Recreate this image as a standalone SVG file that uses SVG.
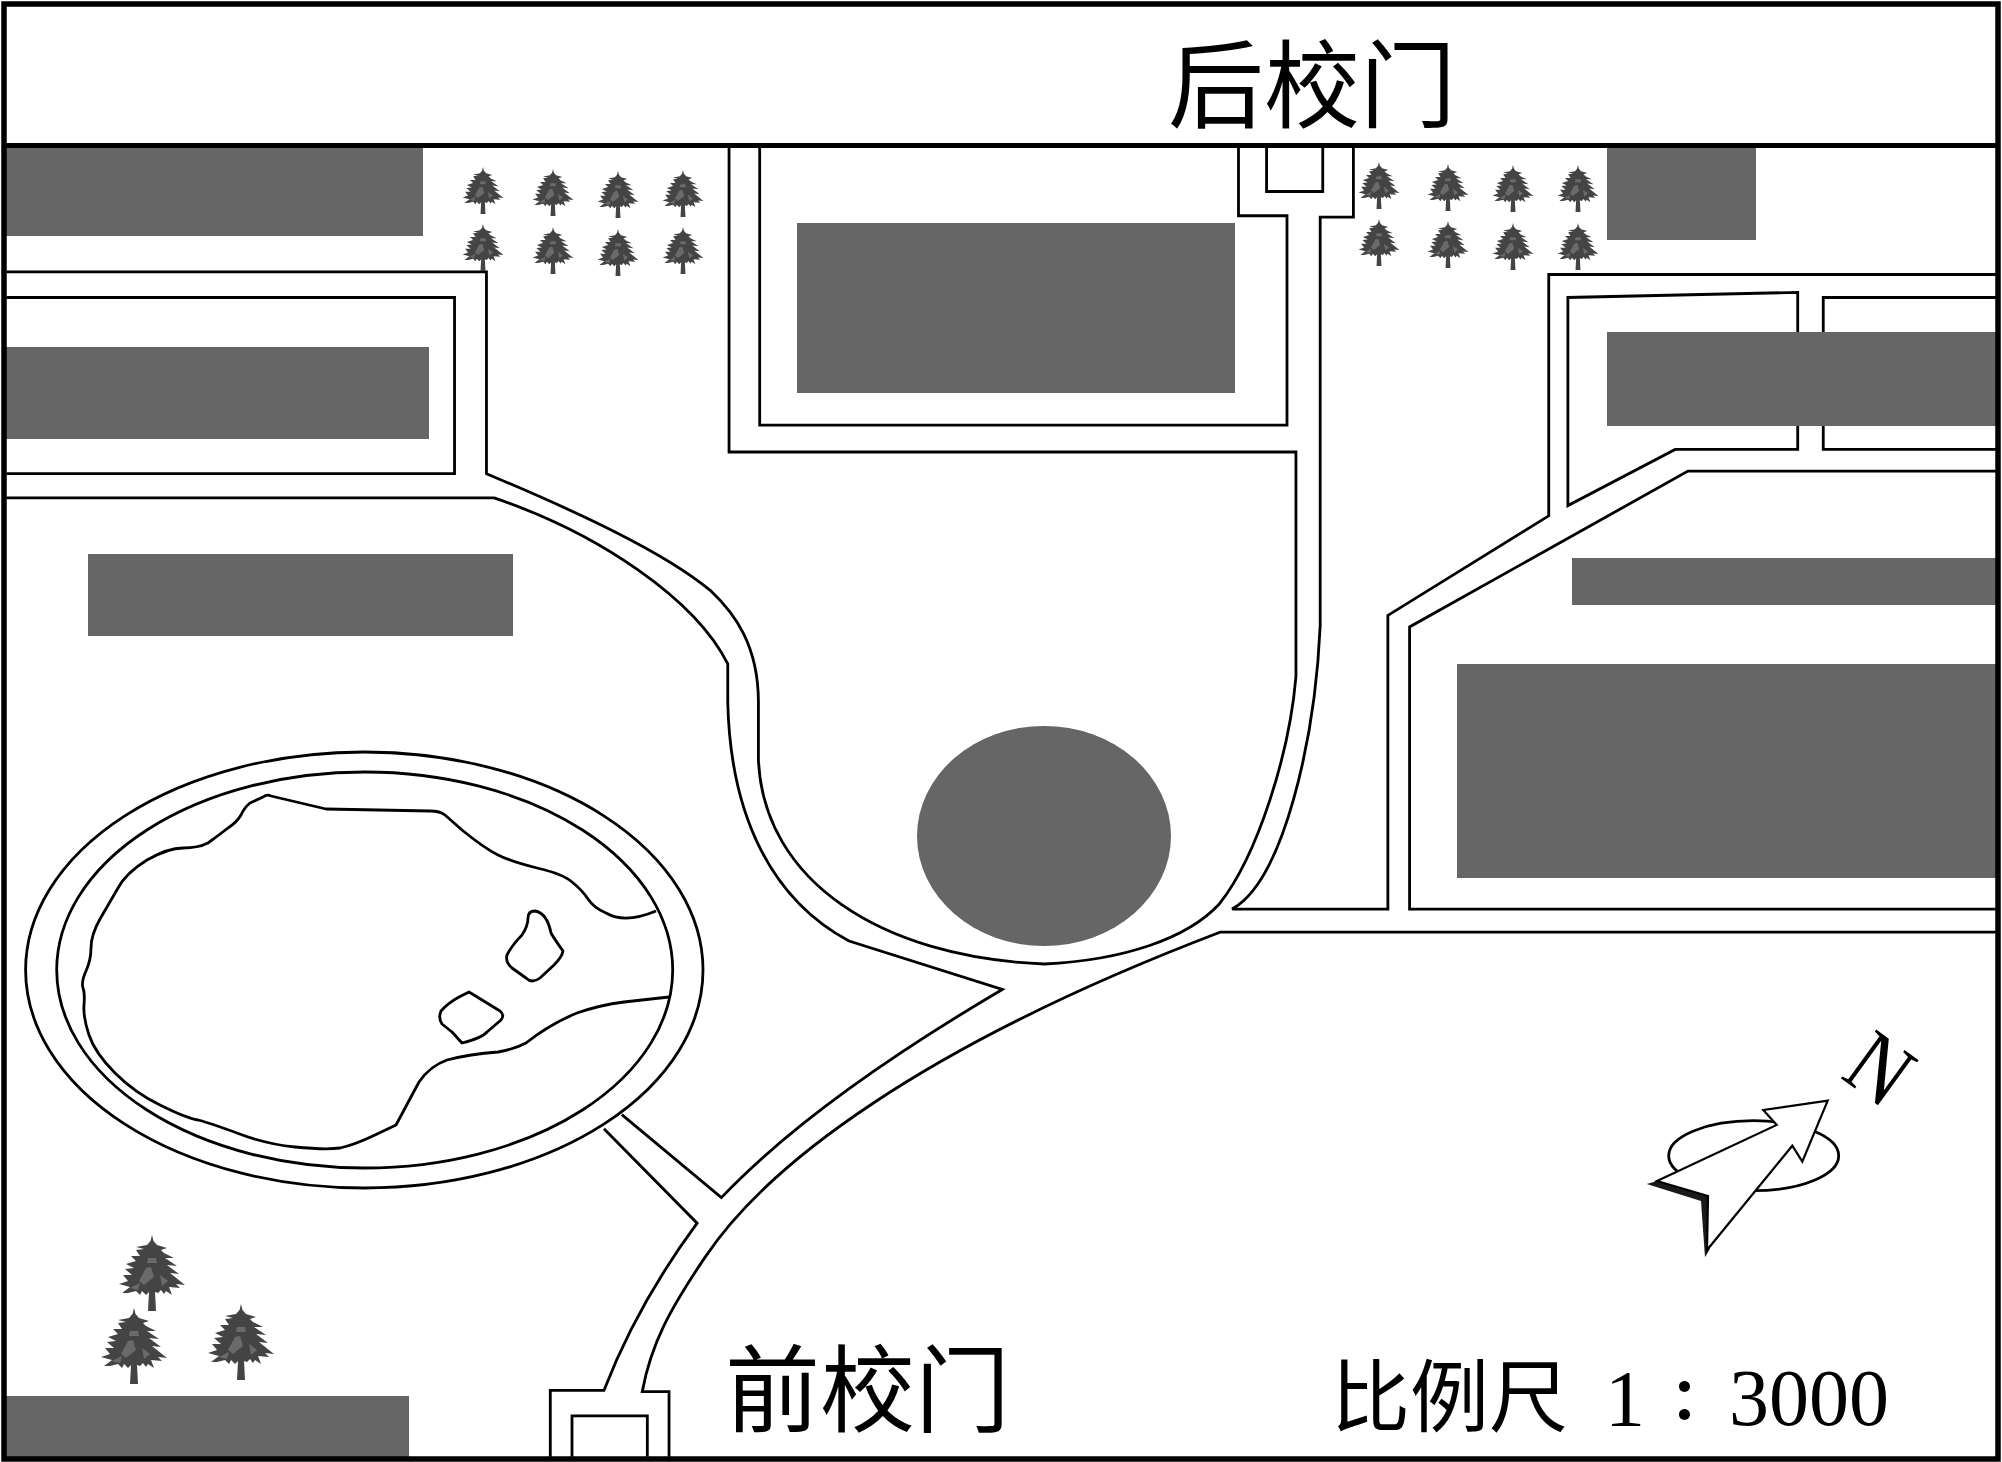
<svg xmlns="http://www.w3.org/2000/svg" width="2002" height="1462" viewBox="0 0 2002 1462">
<style>
.l{fill:none;stroke:#000;stroke-width:2.2;stroke-linejoin:miter}
.r{fill:none;stroke:#000;stroke-width:2.8;stroke-linejoin:round}
.b{fill:#666}
.c{font-family:"Noto Sans CJK SC","Liberation Serif",serif;fill:#000}
.s{font-family:"Liberation Serif",serif;fill:#000}
</style>
<defs>
<g id="tree">
<polygon fill="#444" points="0,0 1.5,6 5,10 15,13 9,15 12,18 22,23 13,23 25,31 15,30 27,39 18,38 33,50 24,49 28,53 17,52 20,60 14,56 12,59 9,55 6,58 3,57 4,76 -4,76 -3,57 -6,60 -10,56 -12,60 -16,56 -24,58 -30,58 -22,52 -33,49 -24,46 -29,40 -20,40 -27,34 -18,33 -26,29 -16,26 -21,21 -12,21 -16,15 -8,14 -16,12 -5,10 -1.5,6"/>
<polygon fill="#6a6a6a" points="-4,23 4,23 5,28 -5,28"/>
<polygon fill="#6a6a6a" points="-6,33 -1,32 2,42 -8,50 -13,46"/>
<polygon fill="#6a6a6a" points="-22,53 -12,48 -14,55"/>
<polygon fill="#6a6a6a" points="8,40 16,46 10,51"/>
</g>
</defs>
<rect width="2002" height="1462" fill="#fff"/>
<g id="roads" transform="scale(1.27679)">
<path class="l" d="M5,213 H381 V371 C450,400 520,432 557,463 C575,480 594,505 594,550 V595 C598,690 690,750 818,755 C880,752 930,735 955,708 C985,670 1010,590 1015,530 V354 H571 V115"/>
<path class="l" d="M595,115 V333 H1008 V169 H970 V115"/>
<path class="l" d="M992,115 V150 H1036 V115"/>
<path class="l" d="M1060,115 V170 H1034 V490 C1030,580 1005,690 965,712 H1087 V482 L1213,404 V215 H1564"/>
<path class="l" d="M5,233 H356 V371 H5"/>
<path class="l" d="M5,390 H387 C470,418 545,470 570,520 V550 C572,640 605,705 665,737 L785,775 C700,825 620,880 565,938 L487,873"/>
<path class="l" d="M473,884 L546,958 C515,1000 490,1045 473,1089 H431 V1141"/>
<path class="l" d="M448,1141 V1109 H507 V1141"/>
<path class="l" d="M524,1141 V1090 H503 C510,1052 525,1025 552,985 C600,913 720,820 956,730 H1564"/>
<path class="l" d="M1564,712 H1104 V491 L1322,369 H1564"/>
<path class="l" d="M1228,396 V233 L1408,229 V352 H1312 Z"/>
<path class="l" d="M1564,233 H1428 V352 H1564"/>
</g>
<g id="pond">
<ellipse class="r" cx="364.3" cy="970" rx="338.7" ry="218"/>
<ellipse class="r" cx="364.7" cy="970" rx="308" ry="198"/>
<path class="r" d="M656,911 Q625,924 606,913 Q594,908 588,899 Q582,890 572,882 Q563,874 537,868 Q512,862 498,855 Q484,848 462,830 L445,815 Q440,811 430,811 L326,809 L271,796 Q267,794 263,797 L250,803 Q244,808 241,815 Q237,822 228,828 Q219,835 208,843 Q198,848 183,848 Q168,848 147,860 Q126,873 118,888 L100,919 Q91,935 91,948 Q91,960 86,971 Q81,982 83,988 Q85,993 84,1005 Q83,1017 89,1035 Q95,1053 115,1073 Q135,1093 160,1105 Q186,1118 198,1120 Q210,1123 237,1133 Q265,1144 295,1147 Q326,1150 340,1148 Q354,1145 375,1135 L396,1125 L419,1082 Q430,1066 447,1060 Q470,1054 498,1052 Q515,1049 526,1043 Q550,1024 577,1013 Q600,1005 624,1002 L669,997"/>
<path class="r" d="M535,911 Q547,913 551,933 Q555,940 563,951 Q562,957 554,965 L540,978 Q532,984 526,978 L512,968 Q505,962 507,955 Q512,945 522,935 Q528,926 528,918 Q528,911 535,911 Z"/>
<path class="r" d="M469,992 L500,1011 Q505,1015 501,1020 L487,1032 Q482,1038 462,1043 L452,1032 L442,1024 Q438,1018 441,1011 Q448,1003 459,997 Z"/>
</g>
<g id="buildings">
<rect class="b" x="6" y="147" width="417" height="89"/>
<rect class="b" x="6" y="347" width="423" height="92"/>
<rect class="b" x="88" y="554" width="425" height="82"/>
<rect class="b" x="797" y="223" width="438" height="170"/>
<rect class="b" x="1607" y="148" width="149" height="92"/>
<rect class="b" x="1607" y="332" width="390" height="94"/>
<rect class="b" x="1572" y="558" width="425" height="47"/>
<rect class="b" x="1457" y="664" width="540" height="214"/>
<rect class="b" x="6" y="1396" width="403" height="61"/>
<ellipse class="b" cx="1044" cy="836" rx="127" ry="110"/>
</g>
<g id="trees">
<use href="#tree" transform="translate(483,167) scale(.62)"/>
<use href="#tree" transform="translate(553,169) scale(.62)"/>
<use href="#tree" transform="translate(618,171) scale(.62)"/>
<use href="#tree" transform="translate(683,170) scale(.62)"/>
<use href="#tree" transform="translate(483,224) scale(.62)"/>
<use href="#tree" transform="translate(553,227) scale(.62)"/>
<use href="#tree" transform="translate(618,229) scale(.62)"/>
<use href="#tree" transform="translate(683,227) scale(.62)"/>
<use href="#tree" transform="translate(1379,162) scale(.62)"/>
<use href="#tree" transform="translate(1448,164) scale(.62)"/>
<use href="#tree" transform="translate(1513,165) scale(.62)"/>
<use href="#tree" transform="translate(1578,165) scale(.62)"/>
<use href="#tree" transform="translate(1379,219) scale(.62)"/>
<use href="#tree" transform="translate(1448,221) scale(.62)"/>
<use href="#tree" transform="translate(1513,223) scale(.62)"/>
<use href="#tree" transform="translate(1578,223) scale(.62)"/>
<use href="#tree" transform="translate(152,1235)"/>
<use href="#tree" transform="translate(134,1308)"/>
<use href="#tree" transform="translate(241,1304)"/>
</g>
<g id="compass">
<ellipse cx="1753.7" cy="1155.7" rx="85" ry="35" fill="none" stroke="#000" stroke-width="2.8"/>
<polygon fill="#1a1a1a" points="1646.7,1184 1657.3,1181 1708.3,1196 1709.7,1249.3 1705,1257.3 1701,1201"/>
<polygon fill="#fff" stroke="#000" stroke-width="2.2" stroke-linejoin="miter" points="1827.7,1100.7 1802.3,1161.7 1792.3,1145.7 1707,1250 1708,1196 1657,1181 1776.7,1125 1763.3,1110"/>
<text class="s" font-size="92" transform="translate(1839,1077) rotate(36) scale(.85,1)">N</text>
</g>
<g id="labels">
<text class="c" x="1168" y="120" font-size="96">后校门</text>
<text class="c" x="725" y="1425" font-size="95">前校门</text>
<text class="c" y="1426" font-size="79"><tspan x="1331">比例尺</tspan><tspan class="s" x="1605" font-size="80">1</tspan><tspan x="1670" y="1419" font-size="58" font-weight="700">：</tspan><tspan class="s" x="1729" y="1425" font-size="80">3000</tspan></text>
</g>
<rect id="frame" x="4" y="4" width="1994" height="1455" fill="none" stroke="#000" stroke-width="5.5"/>
<line x1="4" y1="145.5" x2="1998" y2="145.5" stroke="#000" stroke-width="5"/>
</svg>
